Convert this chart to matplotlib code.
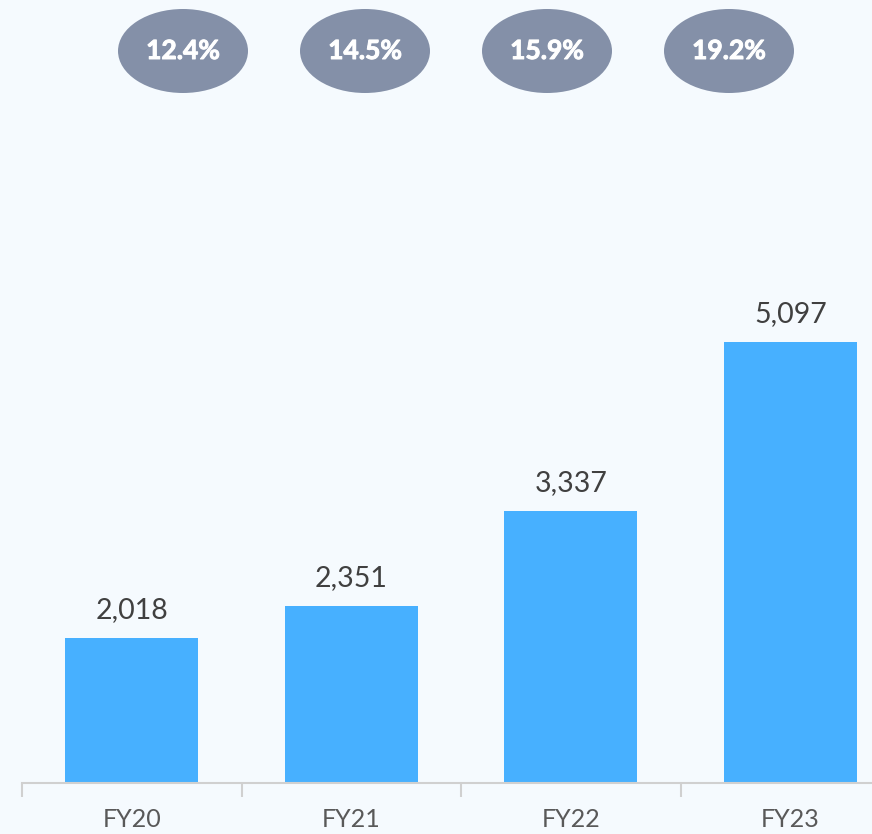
import matplotlib
matplotlib.use("Agg")
import matplotlib.pyplot as plt
import matplotlib.patheffects as pe
from matplotlib.patches import Ellipse
import numpy as np

# datos
categorias = ["FY20", "FY21", "FY22", "FY23"]
valores = [2018, 2351, 3337, 5097]
margenes = ["12.4%", "14.5%", "15.9%", "19.2%"]

FONDO = "#F5FAFE"
AZUL = "#47B0FF"
GRIS = "#8490A8"

plt.rcParams["font.family"] = ["Lato", "DejaVu Sans"]

W, H = 872, 834
fig = plt.figure(figsize=(W / 100, H / 100), dpi=100)
fig.patch.set_facecolor(FONDO)

# el eje se extiende más allá del borde derecho, como en el original
ax = fig.add_axes([22 / W, 51 / H, 878 / W, 700 / H])
ax.set_facecolor(FONDO)

x = np.arange(len(categorias))
ax.bar(x, valores, width=0.605, color=AZUL, zorder=2)
for xi, v in zip(x, valores):
    ax.text(xi, v + 160, f"{v:,}", ha="center", va="bottom",
            fontsize=20.5, color="#404040")

ax.set_xlim(-0.5, 3.5)
ax.set_ylim(510, 510 + 700 / 0.0961)

for s in ["top", "right", "left"]:
    ax.spines[s].set_visible(False)
ax.spines["bottom"].set_color("#D0D0D0")
ax.spines["bottom"].set_linewidth(1.5)
ax.set_yticks([])
ax.set_xticks(x)
ax.set_xticklabels(categorias, fontsize=18, color="#595959")
ax.tick_params(axis="x", length=0, pad=18)
ax.set_xticks(np.arange(-0.5, 4, 1), minor=True)
ax.tick_params(axis="x", which="minor", length=10, width=1.5, color="#D0D0D0")

# elipses con el margen (trazo blanco fino para engrosar el texto)
negrita = [pe.withStroke(linewidth=0.7, foreground="white")]
for i, m in enumerate(margenes):
    cx, cy = 183 + 182 * i, 51
    e = Ellipse((cx / W, 1 - cy / H), 130 / W, 84 / H,
                transform=fig.transFigure, facecolor=GRIS, edgecolor="none")
    fig.add_artist(e)
    fig.text(cx / W, 1 - cy / H, m, ha="center", va="center",
             fontsize=19, fontweight="bold", color="white",
             path_effects=negrita)

fig.savefig("out.png", dpi=100, facecolor=FONDO)
